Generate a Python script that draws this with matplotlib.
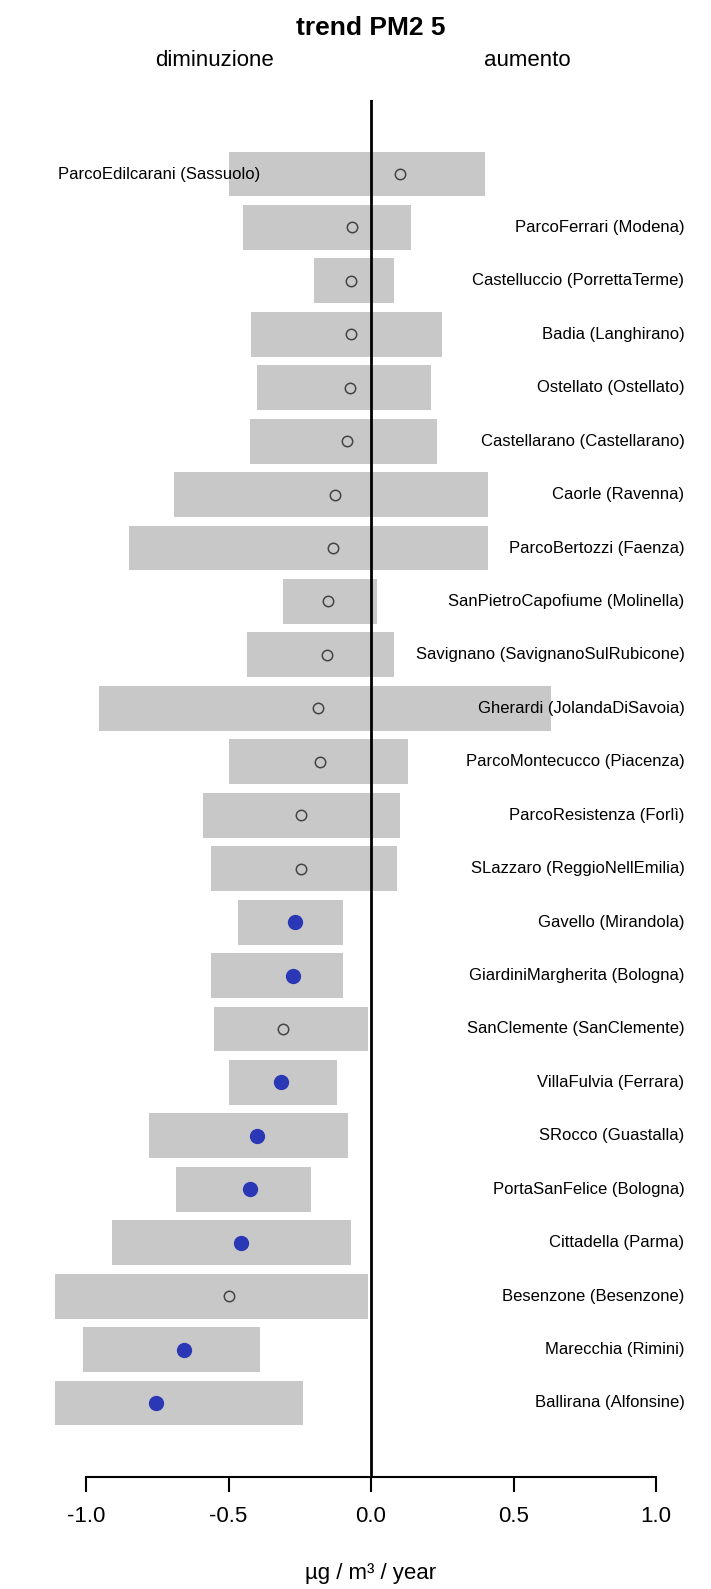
"""trend PM2.5 per stazione: intervallo (barra grigia) + stima puntuale (cerchio)."""
import numpy as np
import matplotlib as mpl
import matplotlib.pyplot as plt

mpl.rcParams["font.family"] = ["Liberation Sans", "DejaVu Sans"]

STATIONS = [
    "ParcoEdilcarani (Sassuolo)", "ParcoFerrari (Modena)", "Castelluccio (PorrettaTerme)",
    "Badia (Langhirano)", "Ostellato (Ostellato)", "Castellarano (Castellarano)",
    "Caorle (Ravenna)", "ParcoBertozzi (Faenza)", "SanPietroCapofiume (Molinella)",
    "Savignano (SavignanoSulRubicone)", "Gherardi (JolandaDiSavoia)",
    "ParcoMontecucco (Piacenza)", "ParcoResistenza (Forlì)", "SLazzaro (ReggioNellEmilia)",
    "Gavello (Mirandola)", "GiardiniMargherita (Bologna)", "SanClemente (SanClemente)",
    "VillaFulvia (Ferrara)", "SRocco (Guastalla)", "PortaSanFelice (Bologna)",
    "Cittadella (Parma)", "Besenzone (Besenzone)", "Marecchia (Rimini)",
    "Ballirana (Alfonsine)",
]
LOW = [-0.50, -0.45, -0.20, -0.42, -0.40, -0.425, -0.69, -0.85, -0.31, -0.435, -0.955,
       -0.50, -0.59, -0.56, -0.465, -0.56, -0.55, -0.50, -0.78, -0.685, -0.91, -1.11,
       -1.01, -1.11]
HIGH = [0.40, 0.14, 0.08, 0.25, 0.21, 0.23, 0.41, 0.41, 0.02, 0.08, 0.63,
        0.13, 0.10, 0.09, -0.10, -0.10, -0.01, -0.12, -0.08, -0.21, -0.07, -0.01,
        -0.39, -0.24]
TREND = [0.10, -0.065, -0.07, -0.07, -0.075, -0.085, -0.125, -0.135, -0.15, -0.155, -0.185,
         -0.18, -0.245, -0.245, -0.265, -0.275, -0.31, -0.315, -0.40, -0.425, -0.455, -0.50,
         -0.655, -0.755]
SIG = [False] * 14 + [True, True, False, True, True, True, True, False, True, True]
LABEL_LEFT = ["ParcoEdilcarani (Sassuolo)"]

W, H = 711, 1589
fig = plt.figure(figsize=(W / 100, H / 100), dpi=100)
# area del grafico: x=0 a 371 px, 285 px per unità; dall'alto y=100 px all'asse y=1477 px
x0, sx = 371, 285
ax = fig.add_axes([0, 1 - 1477 / H, 1, (1477 - 100) / H])
ax.set_xlim(-x0 / sx, (W - x0) / sx)

n = len(STATIONS)
y = np.arange(n)
row = (1403 - 174) / (n - 1)
ax.set_ylim(n - 1 + (1477 - 1403) / row, -(174 - 100) / row)

low, high = np.array(LOW), np.array(HIGH)
ax.barh(y, high - low, left=low, height=0.84, color="#c8c8c8", zorder=1)
ax.axvline(0, color="black", lw=2, zorder=2)

trend, sig = np.array(TREND), np.array(SIG)
ax.plot(trend[~sig], y[~sig], "o", ms=7.5, mfc="none", mec="#444444", mew=1.1, zorder=3)
ax.plot(trend[sig], y[sig], "o", ms=10, color="#2b38b5", mec="#2b38b5", zorder=3)

for yi, name in zip(y, STATIONS):
    if name in LABEL_LEFT:
        ax.text(-1.1, yi, name, ha="left", va="center", fontsize=12, zorder=4)
    else:
        ax.text(1.1, yi, name, ha="right", va="center", fontsize=12, zorder=4)

ax.spines[["top", "right", "left"]].set_visible(False)
ax.spines["bottom"].set_bounds(-1, 1)
ax.spines["bottom"].set_linewidth(1.5)
ax.set_yticks([])
ax.set_xticks([-1.0, -0.5, 0.0, 0.5, 1.0])
ax.set_xticklabels(["-1.0", "-0.5", "0.0", "0.5", "1.0"])
ax.tick_params(axis="x", length=11, width=1.5, labelsize=16, pad=10)

fig.text(x0 / W, 1 - 28 / H, "trend PM2 5", ha="center", va="center",
         fontsize=19, fontweight="bold")
fig.text((x0 - 0.55 * sx) / W, 1 - 60 / H, "diminuzione", ha="center", va="center", fontsize=16)
fig.text((x0 + 0.55 * sx) / W, 1 - 60 / H, "aumento", ha="center", va="center", fontsize=16)
fig.text(x0 / W, 1 - 1574 / H, "µg / m³ / year", ha="center", va="center", fontsize=16)

fig.savefig("out.png", dpi=100)
